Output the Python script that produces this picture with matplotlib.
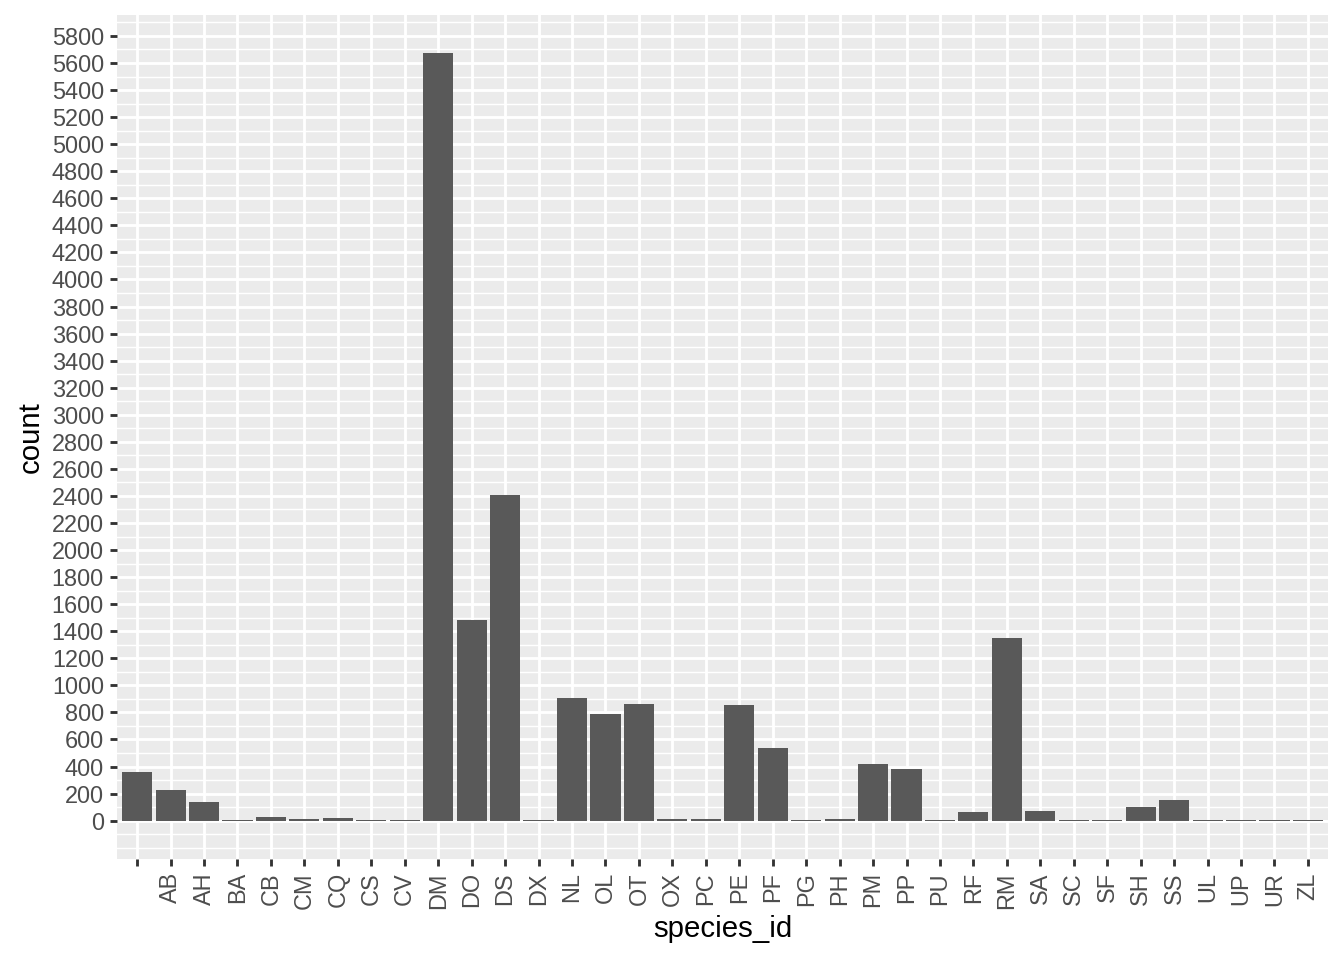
import numpy as np
import matplotlib
matplotlib.use("Agg")
import matplotlib.pyplot as plt
from matplotlib.ticker import MultipleLocator

species = ["", "AB", "AH", "BA", "CB", "CM", "CQ", "CS", "CV", "DM", "DO", "DS",
           "DX", "NL", "OL", "OT", "OX", "PC", "PE", "PF", "PG", "PH", "PM", "PP",
           "PU", "RF", "RM", "SA", "SC", "SF", "SH", "SS", "UL", "UP", "UR", "ZL"]
counts = [358, 226, 137, 4, 27, 12, 20, 3, 3, 5674, 1483, 2407,
          4, 907, 788, 862, 10, 10, 855, 537, 4, 10, 417, 380,
          4, 64, 1351, 71, 3, 4, 101, 152, 3, 4, 4, 3]

plt.rcParams['font.family'] = ['Liberation Sans', 'DejaVu Sans']

fig = plt.figure(figsize=(7, 5), dpi=192)
ax = fig.add_axes([0.0871, 0.1052, 0.9881 - 0.0871, 0.9848 - 0.1052])

x = np.arange(1, len(species) + 1)
ax.bar(x, counts, width=0.9, color="#595959", zorder=3)

# ggplot-like limits with 5% expansion
ymax = max(counts)
ax.set_ylim(-0.05 * ymax, 1.05 * ymax)
ax.set_xlim(0.4, len(species) + 0.6)

ax.set_facecolor("#EBEBEB")
for s in ax.spines.values():
    s.set_visible(False)

ax.yaxis.set_major_locator(MultipleLocator(200))
ax.yaxis.set_minor_locator(MultipleLocator(100))
ax.set_yticks(np.arange(0, 5801, 200))
ax.set_xticks(x)
ax.set_xticklabels(species, rotation=90)

ax.grid(which="major", color="white", linewidth=1.07, zorder=0)
ax.grid(which="minor", axis="y", color="white", linewidth=0.53, zorder=0)
ax.set_axisbelow(True)

ax.tick_params(axis="both", which="major", length=2.75, width=1.07,
               color="#333333", labelcolor="#4D4D4D", labelsize=8.8, pad=2.2)
ax.tick_params(axis="y", which="minor", length=0)

ax.set_xlabel("species_id", fontsize=11, color="black", labelpad=2.5)
ax.set_ylabel("count", fontsize=11, color="black", labelpad=2.5)

fig.savefig("out.png", dpi=192, facecolor="white")
